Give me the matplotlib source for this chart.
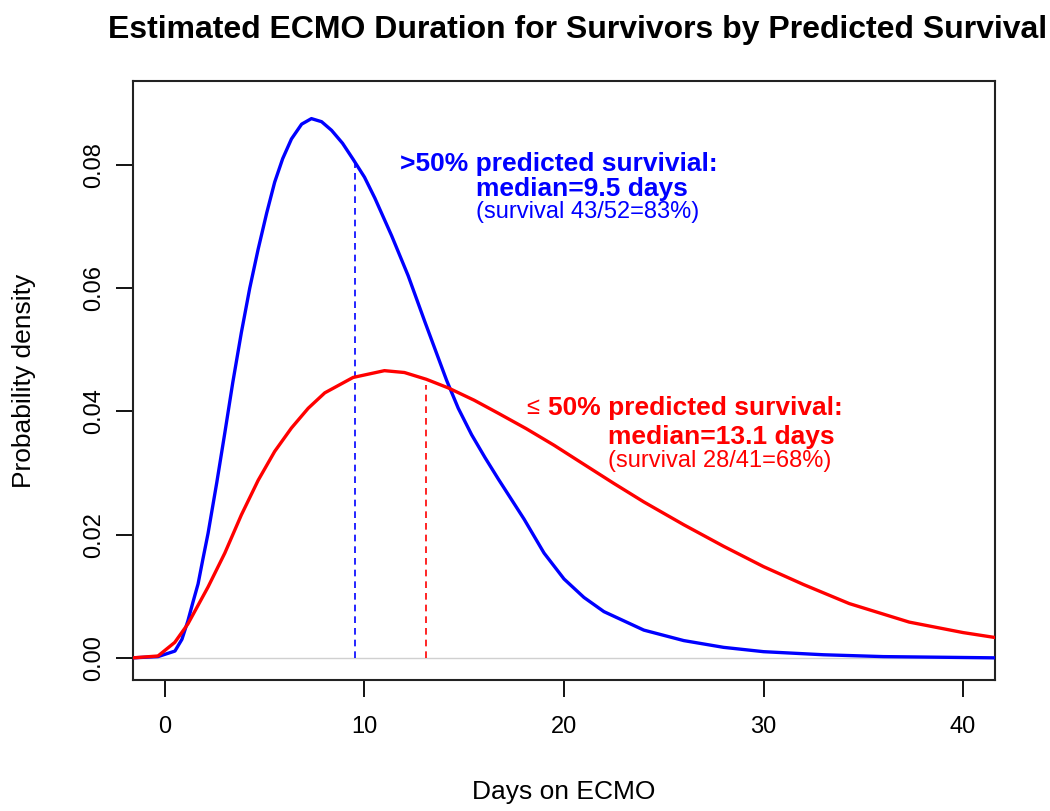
import numpy as np
import matplotlib
matplotlib.use('Agg')
import matplotlib.pyplot as plt

plt.rcParams['font.family'] = ['Liberation Sans', 'DejaVu Sans']

# density curves (days, density)
days_hi = [-1.6, -0.35, 0.5, 0.85, 1.15, 1.4, 1.66, 1.9, 2.16, 2.6, 3.0, 3.4, 3.83,
           4.25, 4.67, 5.1, 5.5, 5.9, 6.34, 6.85, 7.34, 7.85, 8.35, 8.9, 9.43, 10.0,
           10.52, 11.36, 12.19, 13.03, 14.12, 14.7, 15.37, 16.04, 16.71, 18, 19, 20,
           21, 22, 24, 26, 28, 30, 33, 36, 41.6]
dens_hi = [0.0, 0.0002, 0.0011, 0.003, 0.006, 0.009, 0.012, 0.016, 0.0202, 0.0285,
           0.0365, 0.0447, 0.0528, 0.060, 0.0663, 0.0722, 0.0772, 0.0810, 0.0842,
           0.0866, 0.0875, 0.0870, 0.0856, 0.0835, 0.0809, 0.0780, 0.0746, 0.0685,
           0.0620, 0.0545, 0.0450, 0.0405, 0.0362, 0.0325, 0.0290, 0.0225, 0.0170,
           0.0128, 0.0098, 0.0075, 0.0045, 0.0028, 0.0017, 0.0010, 0.0005, 0.0002, 0.0]

days_lo = [-1.6, -0.35, 0.49, 1.15, 2.16, 3.0, 3.83, 4.67, 5.5, 6.34, 7.18, 8.01, 9.43,
           11.0, 12.0, 13.1, 14.2, 15.5, 16.7, 18.1, 19.5, 20.9, 22.5, 24, 26, 28, 30,
           32, 34.3, 37.3, 40, 41.6]
dens_lo = [0.0, 0.0003, 0.0025, 0.0055, 0.0115, 0.017, 0.0232, 0.0288, 0.0335, 0.0373,
           0.0405, 0.0430, 0.0455, 0.0466, 0.0463, 0.0452, 0.0438, 0.0418, 0.0397,
           0.0372, 0.0345, 0.0316, 0.0283, 0.0253, 0.0216, 0.0181, 0.0148, 0.0119,
           0.0088, 0.0058, 0.0041, 0.0033]

median_hi = 9.5
median_lo = 13.1

fig = plt.figure(figsize=(10.5, 8.11), dpi=100)
ax = fig.add_axes([0.1267, 0.1615, 0.8209, 0.7386])

ax.axhline(0, color='#d0d0d0', lw=1, zorder=1)
ax.plot(days_hi, dens_hi, color='blue', lw=2.4, zorder=3)
ax.plot(days_lo, dens_lo, color='red', lw=2.4, zorder=3)
ax.vlines(median_hi, 0, np.interp(median_hi, days_hi, dens_hi), colors='blue',
          linestyles=(0, (4, 3)), lw=1.2, zorder=2)
ax.vlines(median_lo, 0, np.interp(median_lo, days_lo, dens_lo) - 0.001, colors='red',
          linestyles=(0, (4, 3)), lw=1.2, zorder=2)

ax.set_xlim(-1.6, 41.6)
ax.set_ylim(-0.0036, 0.0936)
ax.set_xticks([0, 10, 20, 30, 40])
ax.set_yticks([0.0, 0.02, 0.04, 0.06, 0.08])
ax.set_yticklabels(['0.00', '0.02', '0.04', '0.06', '0.08'], rotation=90, va='center')
ax.tick_params(axis='both', length=12, width=1.3, labelsize=17, pad=14)
ax.tick_params(axis='y', pad=8)
for s in ax.spines.values():
    s.set_linewidth(1.5)
    s.set_color('#222222')

ax.set_xlabel('Days on ECMO', fontsize=19, labelpad=30)
ax.set_ylabel('Probability density', fontsize=19, labelpad=34)
fig.text(0.55, 1 - 30 / 811, 'Estimated ECMO Duration for Survivors by Predicted Survival',
         fontsize=23, fontweight='bold', ha='center', va='center')

# annotations
ax.text(11.8, 0.0801, '>50% predicted survivial:', color='blue', fontsize=19,
        fontweight='bold', ha='left', va='center')
ax.text(15.6, 0.0761, 'median=9.5 days', color='blue', fontsize=19,
        fontweight='bold', ha='left', va='center')
ax.text(15.6, 0.0723, '(survival 43/52=83%)', color='blue', fontsize=17,
        ha='left', va='center')

ax.text(18.1, 0.0405, '\u2264', color='red', fontsize=17, ha='left', va='center')
ax.text(19.2, 0.0405, '50% predicted survival:', color='red', fontsize=19,
        fontweight='bold', ha='left', va='center')
ax.text(22.2, 0.0358, 'median=13.1 days', color='red', fontsize=19,
        fontweight='bold', ha='left', va='center')
ax.text(22.2, 0.0320, '(survival 28/41=68%)', color='red', fontsize=17,
        ha='left', va='center')

fig.savefig('out.png', dpi=100)
